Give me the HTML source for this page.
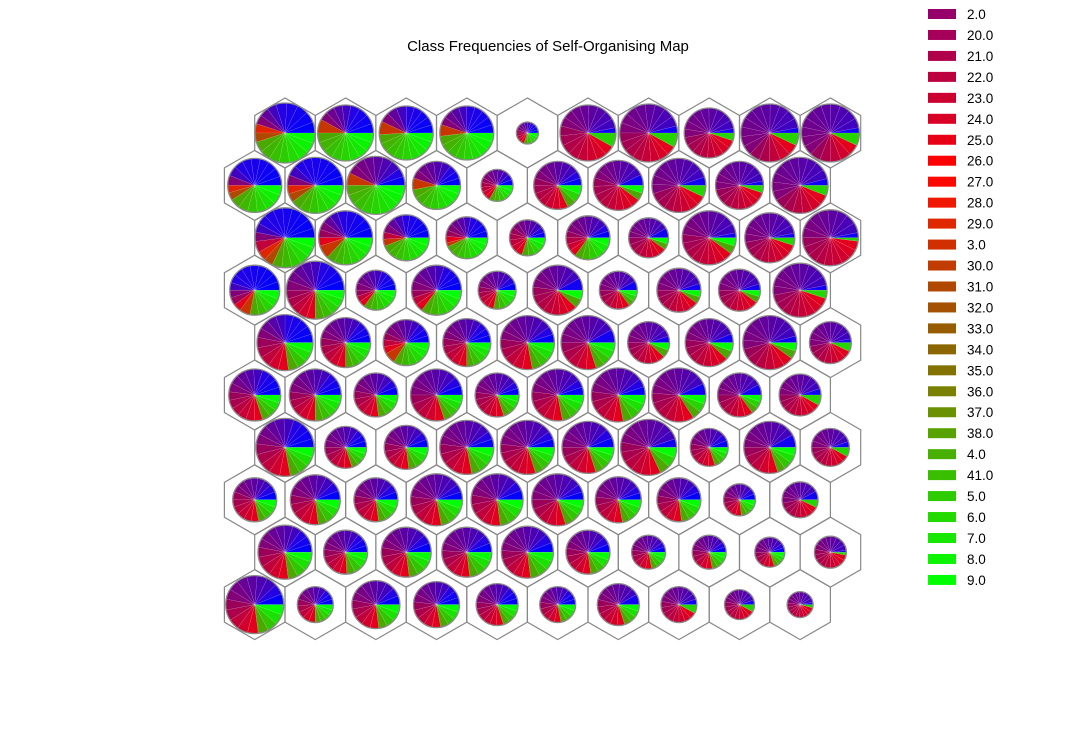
<!DOCTYPE html>
<html><head><meta charset="utf-8">
<style>
html,body{margin:0;padding:0;background:#fff;}
svg{display:block;font-family:"Liberation Sans","DejaVu Sans",sans-serif;}
</style></head>
<body>
<svg id="chart" width="1070" height="730" viewBox="0 0 1070 730" xmlns="http://www.w3.org/2000/svg">
<text x="548" y="51" text-anchor="middle" font-size="15" fill="#000">Class Frequencies of Self-Organising Map</text>
<g id="grid"></g>
<g id="legend"></g>
</svg>
<script>
// pie radius per cell (row-major, 10x10)
const radii = [
30,28,27,27,11,28,29,25,29,29,
27,28,29,24,16,24,25,27,24,28,
30,27,23,21,18,22,20,27,25,28,
25,29,20,25,19,25,19,22,21,27,
28,25,23,24,27,27,21,24,27,21,
26,26,22,26,22,26,27,27,22,21,
29,21,22,27,27,26,28,19,26,19,
22,25,22,26,26,26,23,22,16,18,
27,22,25,25,26,22,17,17,15,16,
29,18,24,23,21,18,21,18,15,13];
// colour-group fractions per cell
const blueFrac = [
.3,.22,.25,.25,.2,.03,.04,.03,.03,.03,
.38,.38,.1,.15,.12,.1,.07,.05,.03,.04,
.42,.3,.28,.22,.1,.1,.08,.03,.03,.03,
.45,.22,.2,.2,.12,.08,.08,.05,.05,.03,
.25,.15,.15,.15,.1,.08,.05,.06,.04,.03,
.2,.15,.12,.12,.1,.1,.1,.07,.08,.05,
.2,.15,.12,.1,.1,.12,.05,.12,.08,.05,
.12,.12,.12,.1,.12,.1,.1,.12,.12,.08,
.15,.15,.12,.12,.12,.12,.1,.1,.1,.02,
.12,.15,.12,.15,.15,.15,.08,.05,.05,.03];
const purpleFrac = [
.15,.2,.18,.2,.25,.42,.46,.5,.6,.6,
.12,.12,.33,.3,.3,.35,.38,.5,.5,.55,
.1,.15,.18,.22,.3,.35,.42,.45,.5,.47,
.1,.28,.3,.3,.35,.4,.42,.45,.45,.5,
.22,.32,.28,.32,.38,.42,.45,.42,.5,.5,
.28,.33,.35,.38,.38,.38,.38,.42,.42,.45,
.28,.35,.35,.38,.38,.38,.42,.35,.42,.45,
.32,.35,.35,.38,.35,.4,.38,.35,.35,.45,
.32,.33,.35,.37,.37,.35,.38,.38,.4,.45,
.35,.3,.35,.33,.33,.33,.38,.42,.42,.45];
const redFrac = [
0,0,0,0,.25,.45,.42,.42,.3,.3,
0,0,0,0,.25,.37,.45,.38,.42,.35,
.06,.1,.05,.1,.3,.2,.4,.42,.42,.48,
.1,.25,.15,.15,.25,.4,.35,.4,.4,.42,
.3,.28,.15,.28,.3,.3,.38,.4,.36,.4,
.32,.27,.3,.3,.32,.3,.3,.35,.35,.42,
.3,.3,.3,.3,.32,.3,.35,.33,.3,.42,
.34,.3,.3,.3,.3,.3,.3,.3,.3,.4,
.3,.28,.3,.28,.28,.3,.3,.3,.3,.5,
.3,.3,.3,.3,.32,.3,.34,.45,.45,.48];
const orangeFrac = [
.1,.08,.08,.07,0,0,0,0,0,0,
.09,.1,.07,.08,0,0,0,0,0,0,
.1,.08,.05,.03,0,0,0,0,0,0,
.07,0,0,0,0,0,0,0,0,0,
0,0,.08,0,0,0,0,0,0,0,
0,0,0,0,0,0,0,0,0,0,
0,0,0,0,0,0,0,0,0,0,
0,0,0,0,0,0,0,0,0,0,
0,0,0,0,0,0,0,0,0,0,
0,0,0,0,0,0,0,0,0,0];
const greenFrac = [
.45,.5,.49,.48,.3,.08,.08,.05,.07,.07,
.41,.4,.5,.47,.33,.18,.1,.07,.05,.06,
.32,.37,.44,.43,.3,.35,.1,.1,.05,.02,
.28,.25,.35,.35,.28,.12,.15,.1,.1,.05,
.23,.25,.34,.25,.22,.2,.12,.12,.1,.07,
.2,.25,.23,.2,.2,.22,.22,.16,.15,.08,
.22,.2,.23,.22,.2,.2,.18,.2,.2,.08,
.22,.23,.23,.22,.23,.2,.22,.23,.23,.07,
.23,.24,.23,.23,.23,.23,.22,.22,.2,.03,
.23,.25,.23,.22,.2,.22,.2,.08,.08,.04];
const legendLabels = ["2.0","20.0","21.0","22.0","23.0","24.0","25.0","26.0","27.0","28.0","29.0","3.0","30.0","31.0","32.0","33.0","34.0","35.0","36.0","37.0","38.0","4.0","41.0","5.0","6.0","7.0","8.0","9.0"];
const legendColors = ["#95006a","#a5005a","#b0004c","#bd003e","#cc0030","#d80024","#e80014","#ff0000","#ff0800","#f01800","#e02800","#d03000","#c03c00","#b04800","#a45200","#985c00","#8c6600","#847200","#7a8000","#6a9200","#58a200","#48b000","#3abf00","#2ccc00","#22da00","#18e800","#0cf400","#00ff00"];

const NS="http://www.w3.org/2000/svg";
const grid=document.getElementById('grid');
const HX=60.6, HY=52.4, HR=35, X0=285, Y0=133;
function hexC(a,b,t){const p=i=>parseInt(a.substr(i,2),16),q=i=>parseInt(b.substr(i,2),16);
 const c=[1,3,5].map(i=>Math.round(p(i)+(q(i)-p(i))*t));return "rgb("+c.join(",")+")";}
const groups=[["#0000ff","#2400e4"],["#4000c0","#820078"],["#9a005a","#e4001c"],["#e02400","#b04800"],["#4aa800","#00ff00"]];
for(let r=0;r<10;r++){for(let c=0;c<10;c++){
 const i=r*10+c;
 const cx=X0+c*HX-(r%2?HX/2:0), cy=Y0+r*HY;
 let pts=[];for(let k=0;k<6;k++){const a=Math.PI/180*(90+60*k);pts.push((cx+HR*Math.cos(a)).toFixed(1)+","+(cy-HR*Math.sin(a)).toFixed(1));}
 const hx=document.createElementNS(NS,'polygon');
 hx.setAttribute('points',pts.join(' '));hx.setAttribute('fill','none');hx.setAttribute('stroke','#888');hx.setAttribute('stroke-width','1.2');
 
 
 grid.appendChild(hx);
 const fr=[blueFrac[i],purpleFrac[i],redFrac[i],orangeFrac[i],greenFrac[i]];
 const tot=fr.reduce((s,v)=>s+v,0);const R=radii[i];
 const pie=document.createElementNS(NS,'g');
 
 
 let ang=0;
 fr.forEach((f,g)=>{if(f<=0)return;const span=f/tot*2*Math.PI;const n=Math.max(1,Math.round(f/tot*18));
  for(let s=0;s<n;s++){const a0=ang+span*s/n,a1=ang+span*(s+1)/n;
   const p=document.createElementNS(NS,'path');
   const x0=cx+R*Math.cos(a0),y0=cy-R*Math.sin(a0),x1=cx+R*Math.cos(a1),y1=cy-R*Math.sin(a1);
   p.setAttribute('d',`M${cx},${cy}L${x0.toFixed(2)},${y0.toFixed(2)}A${R},${R} 0 ${(a1-a0)>Math.PI?1:0} 0 ${x1.toFixed(2)},${y1.toFixed(2)}Z`);
   p.setAttribute('fill',hexC(groups[g][0],groups[g][1],n>1?s/(n-1):0.5));
   p.setAttribute('stroke','rgba(255,255,255,0.2)');p.setAttribute('stroke-width','0.5');
   
   
   pie.appendChild(p);}
  ang+=span;});
 const ring=document.createElementNS(NS,'circle');
 ring.setAttribute('cx',cx);ring.setAttribute('cy',cy);ring.setAttribute('r',R);ring.setAttribute('fill','none');ring.setAttribute('stroke','#8a8a8a');ring.setAttribute('stroke-width','1.3');
 
 
 pie.appendChild(ring);
 grid.appendChild(pie);
}}
const lg=document.getElementById('legend');
legendLabels.forEach((lab,k)=>{const y=14+k*20.96;
 const e=document.createElementNS(NS,'g');
 
 
 const rc=document.createElementNS(NS,'rect');
 rc.setAttribute('x',928);rc.setAttribute('y',y-5);rc.setAttribute('width',28);rc.setAttribute('height',10);rc.setAttribute('fill',legendColors[k]);
 const t=document.createElementNS(NS,'text');
 t.setAttribute('x',967);t.setAttribute('y',y+5);t.setAttribute('font-size','13.5');t.setAttribute('fill','#000');t.textContent=lab;
 e.appendChild(rc);e.appendChild(t);lg.appendChild(e);});
</script>
</body></html>
